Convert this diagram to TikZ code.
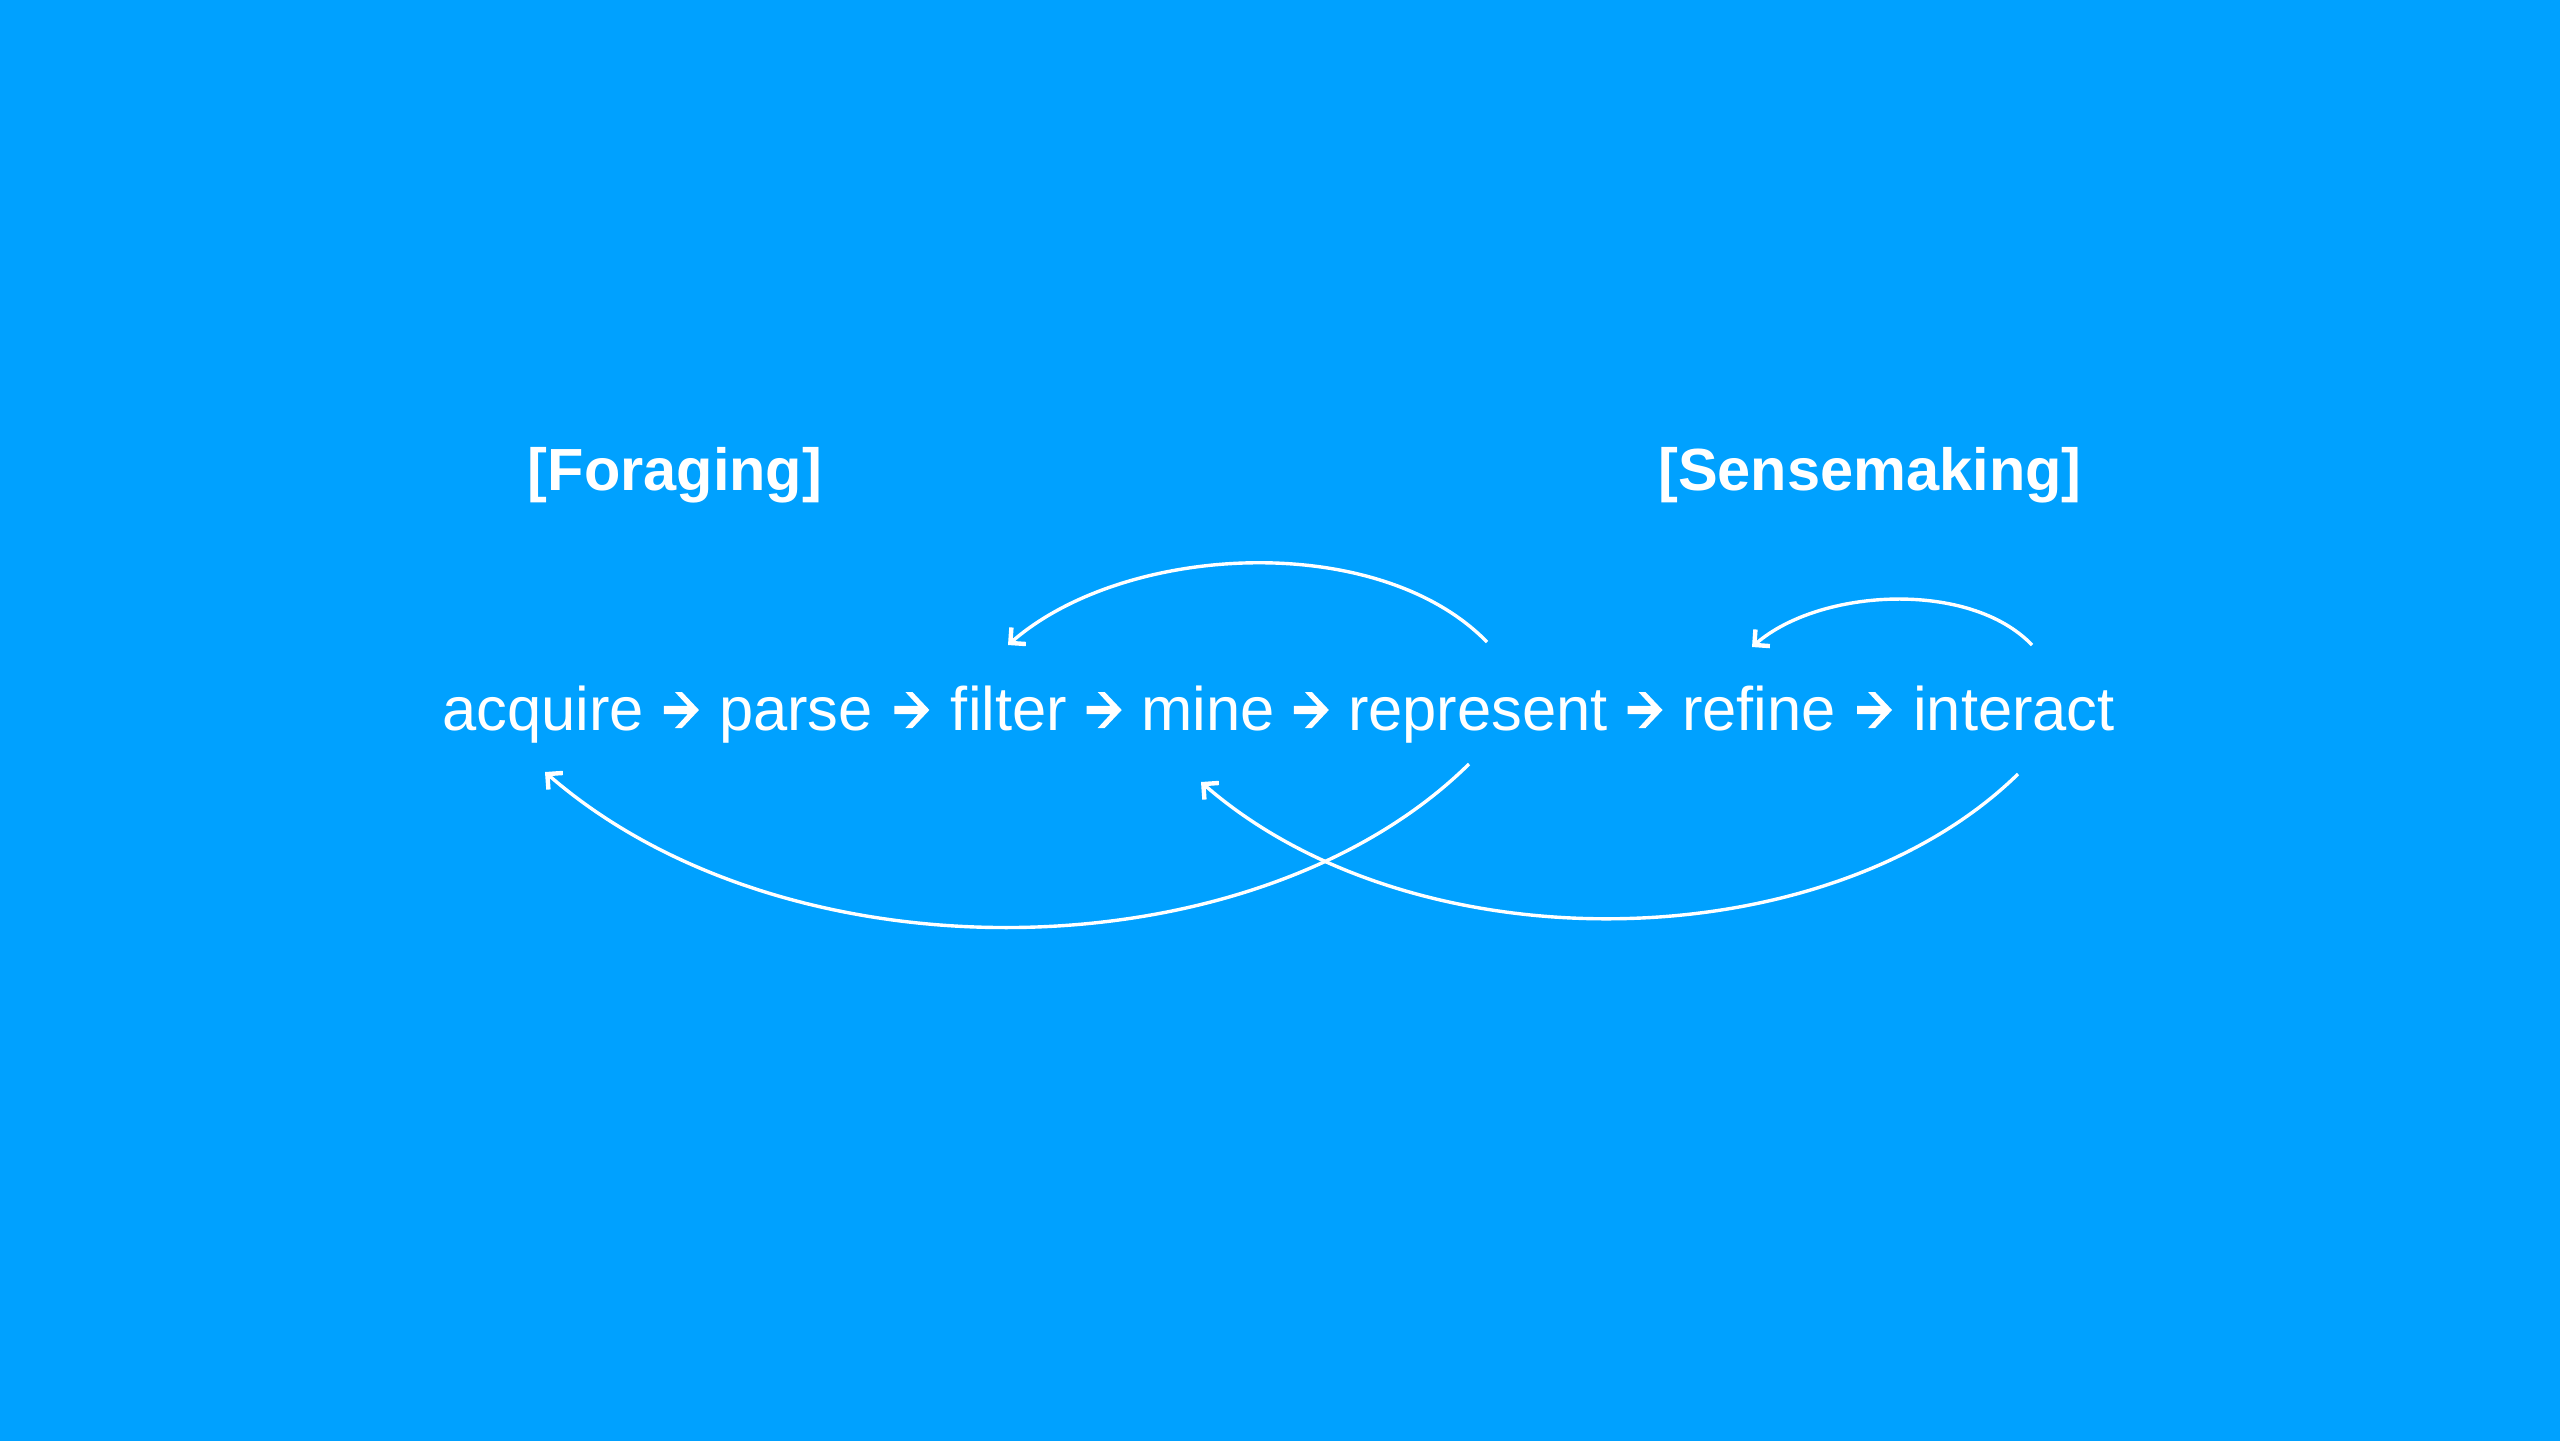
\documentclass[tikz,border=0pt]{standalone}
\usepackage{fontspec}
\setmainfont{Liberation Sans}
\usetikzlibrary{arrows.meta,calc}
\definecolor{bgblue}{RGB}{0,161,255}
\begin{document}
\begin{tikzpicture}[x=1pt,y=-1pt,
  word/.style={anchor=base, inner sep=0pt, text=white, font=\fontsize{61.5}{70}\selectfont},
  phase/.style={anchor=base, inner sep=0pt, text=white, font=\bfseries\fontsize{59.5}{68}\selectfont},
  loop/.style={draw=white, line width=3.4pt, -{Straight Barb[length=11pt,width=22pt,line width=4.4pt]}},
  glypharrow/.pic={\fill[white] (-17.5,-4.2) -- (6.25,-4.2) -- (-6.5,-18) -- (0.5,-18) -- (17.5,0) -- (0.5,18) -- (-6.5,18) -- (6.25,4.2) -- (-17.5,4.2) -- cycle;}]
\fill[bgblue] (0,0) rectangle (2560,1441);
\useasboundingbox (0,0) rectangle (2560,1441);

% phase labels
\node[phase] (foraging) at (675,490) {[Foraging]};
\node[phase] (sensemaking) at (1870,490) {[Sensemaking]};

% pipeline words
\node[word] (acquire) at (543,730) {acquire};
\node[word] (parse) at (796,730) {parse};
\node[word] (filter) at (1009,730) {filter};
\node[word] (mine) at (1208,730) {mine};
\node[word] (represent) at (1478,730) {represent};
\node[word] (refine) at (1759,730) {refine};
\node[word] (interact) at (2014,730) {interact};

% step arrows
\foreach \a/\b in {acquire/parse, parse/filter, filter/mine, mine/represent, represent/refine, refine/interact}{
  \path let \p1=($(\a.east)!0.5!(\b.west)$) in pic at (\x1,710) {glypharrow};
}

% loop curve end points
\coordinate (repLow) at (1469,764);
\coordinate (acqLow) at (545,772);
\coordinate (intLow) at (2018,774);
\coordinate (mineLow) at (1201,782);
\coordinate (repHigh) at (1487,642);
\coordinate (filHigh) at (1008,645);
\coordinate (intHigh) at (2032,645);
\coordinate (refHigh) at (1752,647);

% represent -> acquire (below)
\draw[loop] (repLow) .. controls (1255,975) and (790,985) .. (acqLow);
% interact -> mine (below)
\draw[loop] (intLow) .. controls (1828,960) and (1417,970) .. (mineLow);
% represent -> filter (above)
\draw[loop] (repHigh) .. controls (1378,530) and (1125,543) .. (filHigh);
% interact -> refine (above)
\draw[loop] (intHigh) .. controls (1970,580) and (1820,588) .. (refHigh);
\end{tikzpicture}
\end{document}
